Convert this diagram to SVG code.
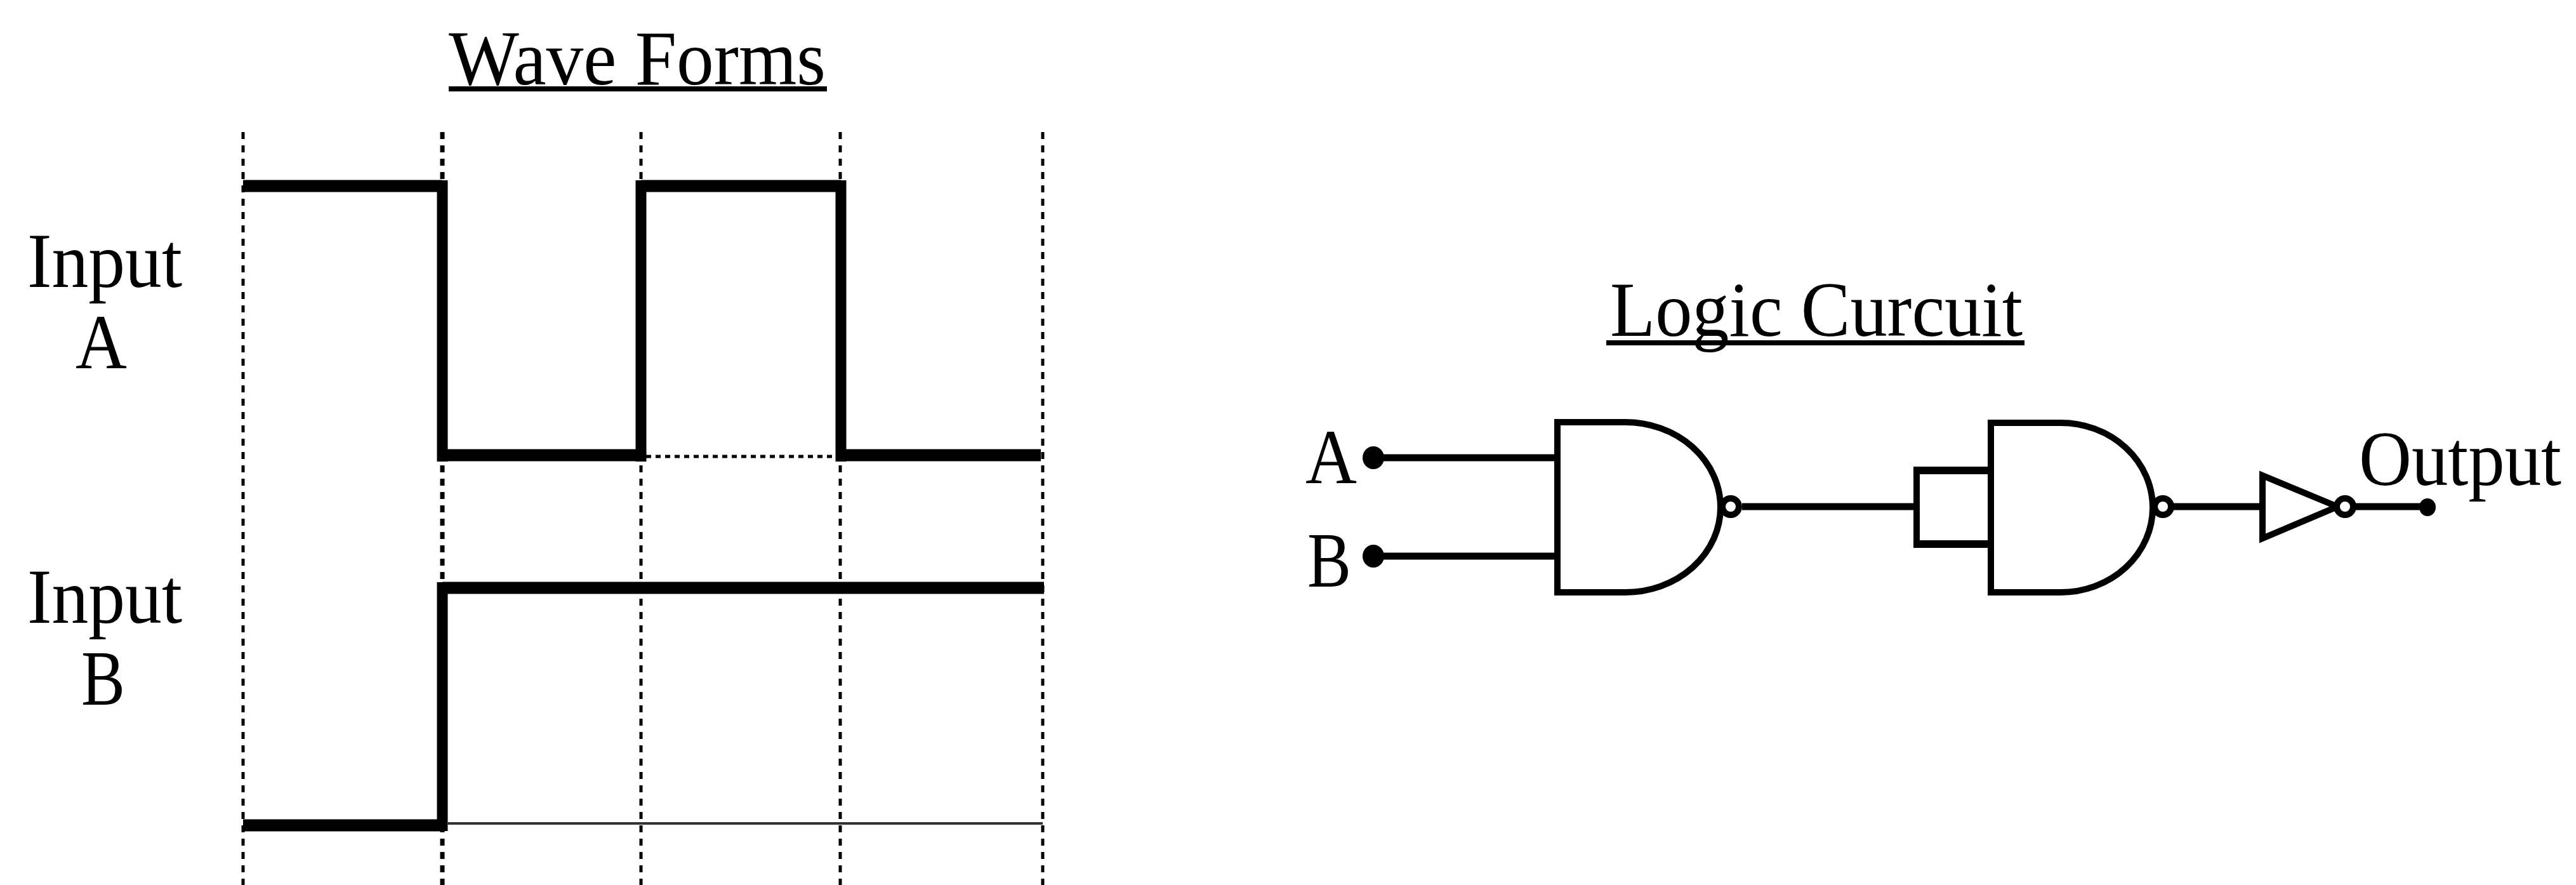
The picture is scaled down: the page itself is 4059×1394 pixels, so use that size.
<svg xmlns="http://www.w3.org/2000/svg" width="4059" height="1394" viewBox="0 0 4059 1394">
<style>
text{font-family:"Liberation Serif","Times New Roman",serif;font-size:122px;fill:#000}
.grid{stroke:#000;stroke-width:5;stroke-dasharray:11 10;fill:none}
.gridb{stroke:#000;stroke-width:7;stroke-dasharray:11 10;fill:none}
.wave{stroke:#000;stroke-width:17;fill:none}
.thick{stroke:#000;stroke-width:19;fill:none}
.wire{stroke:#000;stroke-width:11;fill:none}
.gate{stroke:#000;stroke-width:10;fill:#fff}
.cap{stroke:#000;stroke-width:12;fill:none}
.bub{stroke:#000;stroke-width:10;fill:#fff}
.ul{stroke:#000;stroke-width:8;fill:none}
</style>
<rect width="4059" height="1394" fill="#fff"/>
<g id="waveforms">
<g id="grid">
<line class="grid" x1="383" y1="208" x2="383" y2="1394"/>
<line class="gridb" x1="697" y1="208" x2="697" y2="1394"/>
<line class="grid" x1="1010" y1="208" x2="1010" y2="1394"/>
<line class="grid" x1="1324" y1="208" x2="1324" y2="1394"/>
<line class="grid" x1="1643" y1="208" x2="1643" y2="1394"/>
</g>
<g id="wave-a">
<path class="wave" d="M697 284V727M1010 284V727M1325 284V727"/>
<path class="thick" d="M383 293H697M1010 293H1325M697 717H1010M1325 717H1640"/>
<line x1="1018" y1="719" x2="1317" y2="719" stroke="#000" stroke-width="5" stroke-dasharray="8 7"/>
</g>
<g id="wave-b">
<path class="wave" d="M697 917V1309"/>
<path class="thick" d="M697 926H1645M383 1300H697"/>
<line x1="704" y1="1297" x2="1643" y2="1297" stroke="#333" stroke-width="4"/>
</g>
</g>
<g id="labels">
<text x="707" y="133" textLength="594" lengthAdjust="spacingAndGlyphs">Wave Forms</text>
<line class="ul" x1="707" y1="140" x2="1303" y2="140"/>
<text x="43" y="452" textLength="244" lengthAdjust="spacingAndGlyphs">Input</text>
<text x="119" y="580" textLength="81" lengthAdjust="spacingAndGlyphs">A</text>
<text x="43" y="981" textLength="244" lengthAdjust="spacingAndGlyphs">Input</text>
<text x="128" y="1110" textLength="69" lengthAdjust="spacingAndGlyphs">B</text>
<text x="2537" y="529" textLength="650" lengthAdjust="spacingAndGlyphs">Logic Curcuit</text>
<line class="ul" x1="2531" y1="540" x2="3190" y2="540"/>
<text x="2057" y="761" textLength="81" lengthAdjust="spacingAndGlyphs">A</text>
<text x="2060" y="924" textLength="69" lengthAdjust="spacingAndGlyphs">B</text>
<text x="3717" y="764" textLength="319" lengthAdjust="spacingAndGlyphs">Output</text>
</g>
<g id="connectors">
<path class="wire" d="M2164 721H2449M2164 876H2449M2745 798H3015M3425 798H3560M3712 798H3825"/>
<path class="cap" d="M3015 741H3132M3015 857H3132"/>
<line x1="3020" y1="735" x2="3020" y2="863" stroke="#000" stroke-width="10"/>
</g>
<g id="pin-a"><ellipse cx="2164" cy="721" rx="17" ry="18"/></g>
<g id="pin-b"><ellipse cx="2164" cy="876" rx="17" ry="18"/></g>
<g id="pin-output"><ellipse cx="3825" cy="799" rx="13" ry="14"/></g>
<g id="nand-1">
<path class="gate" d="M2561 665H2454V933H2561A150 134 0 0 0 2561 665Z"/>
<circle class="bub" cx="2727" cy="798" r="13"/>
</g>
<g id="nand-2">
<path class="gate" d="M3247 666H3137V933H3247A145 133.500 0 0 0 3247 666Z"/>
<circle class="bub" cx="3408" cy="798" r="13"/>
</g>
<g id="inverter">
<path class="gate" d="M3565 749V848L3683 798Z"/>
<circle class="bub" cx="3695" cy="798" r="13"/>
</g>
</svg>
